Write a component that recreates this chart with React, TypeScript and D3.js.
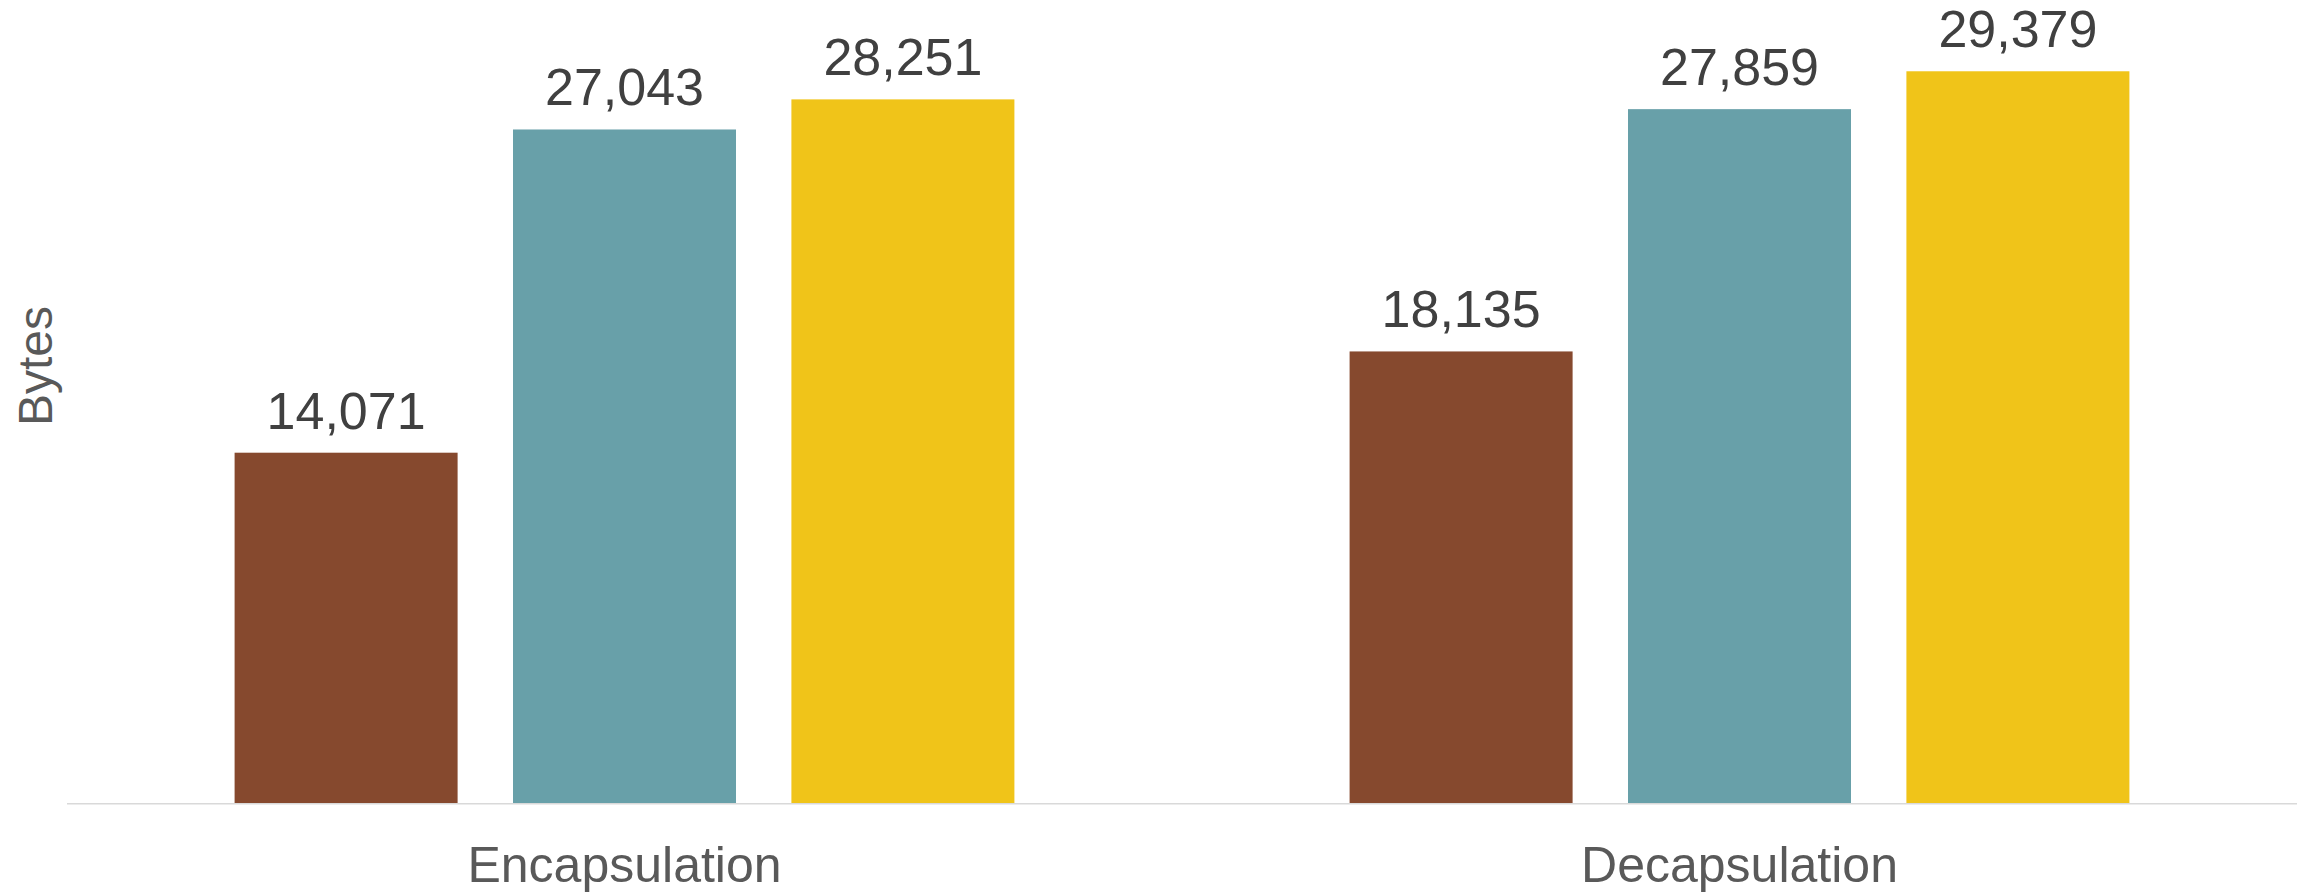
import React from "react";
import * as d3 from "d3";

const categories = ["Encapsulation", "Decapsulation"];
const seriesNames = ["A", "B", "C"];
const seriesA = [14071, 18135];
const seriesB = [27043, 27859];
const seriesC = [28251, 29379];
const seriesColors = ["#86492E", "#68A0A9", "#F0C419"];
const yAxisTitle = "Bytes";

const W = 2310;
const H = 895;
const plotLeft = 67;
const plotRight = 2297;
const baseY = 803.3;

export default function App() {
  const values = [seriesA, seriesB, seriesC];
  const x0 = d3.scaleBand<string>().domain(categories).range([plotLeft, plotRight]).padding(0);
  const x1 = d3
    .scaleBand<string>()
    .domain(seriesNames)
    .range([0, x0.bandwidth()])
    .paddingInner(0.199)
    .paddingOuter(0.602);
  const y = d3.scaleLinear().domain([0, 30000]).range([baseY, 55.8]);
  const fmt = d3.format(",");
  const font = "'Liberation Sans', Arial, sans-serif";

  return (
    <svg
      width={W}
      height={H}
      style={{ position: "absolute", left: 0, top: 0, background: "#fff" }}
    >
      {categories.map((c, ci) => (
        <g key={c} transform={`translate(${x0(c)},0)`}>
          {seriesNames.map((s, si) => {
            const v = values[si][ci];
            const bx = x1(s)!;
            return (
              <g key={s}>
                <rect
                  x={bx}
                  y={y(v)}
                  width={x1.bandwidth()}
                  height={baseY - y(v)}
                  fill={seriesColors[si]}
                />
                <text
                  x={bx + x1.bandwidth() / 2}
                  y={y(v) - 24}
                  textAnchor="middle"
                  fontFamily={font}
                  fontSize={52}
                  fill="#404040"
                >
                  {fmt(v)}
                </text>
              </g>
            );
          })}
          <text
            x={x0.bandwidth() / 2}
            y={882}
            textAnchor="middle"
            fontFamily={font}
            fontSize={50}
            fill="#595959"
          >
            {c}
          </text>
        </g>
      ))}
      <line x1={plotLeft} x2={plotRight} y1={baseY + 0.5} y2={baseY + 0.5} stroke="#D9D9D9" strokeWidth={1.5} />
      <text
        transform={`translate(52,366) rotate(-90)`}
        textAnchor="middle"
        fontFamily={font}
        fontSize={48}
        fill="#595959"
      >
        {yAxisTitle}
      </text>
    </svg>
  );
}
